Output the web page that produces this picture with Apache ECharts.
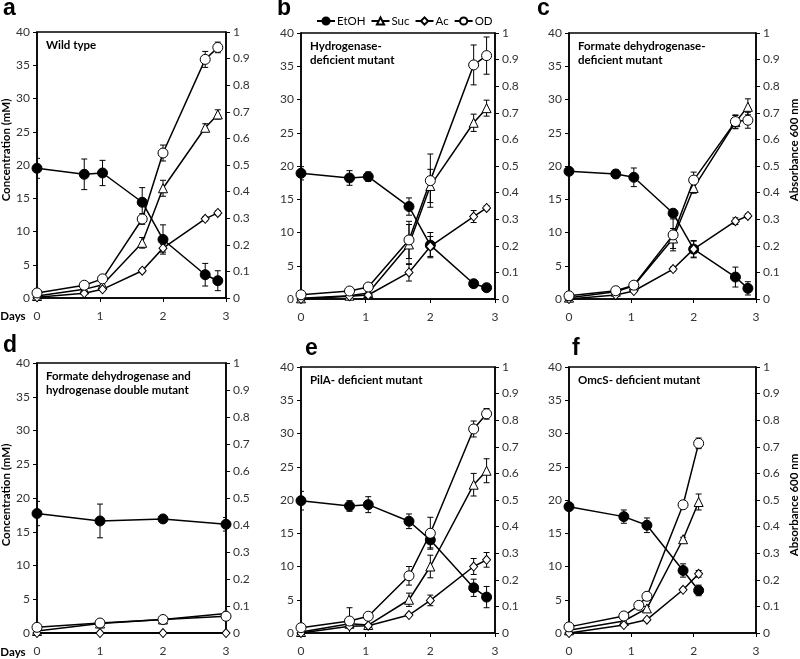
<!DOCTYPE html>
<html><head><meta charset="utf-8">
<script src="https://cdn.jsdelivr.net/npm/echarts@6/dist/echarts.min.js"></script>
<style>html,body{margin:0;padding:0;background:#fff}#c{width:800px;height:659px}</style>
</head><body><div id="c"></div>
<script>
// ---- data ----
const xTicks = [0, 1, 2, 3];
const sampleDays = [0, 0.75, 1.04, 1.67, 2.0, 2.67, 2.87];

const aEtOH = [19.5, 18.6, 18.8, 14.4, 8.8, 3.5, 2.6];
const aEtOHErr = [1.5, 2.3, 1.9, 2.2, 2.2, 1.7, 1.5];
const aSuc = [0.3, 1.3, 2.0, 8.3, 16.5, 25.6, 27.6];
const aSucErr = [0.2, 0.2, 0.3, 0.8, 1.2, 0.6, 0.7];
const aAc = [0.1, 0.7, 1.3, 4.1, 7.5, 11.9, 12.8];
const aAcErr = [0.1, 0.1, 0.2, 0.3, 0.6, 0.3, 0.3];
const aOD = [0.019, 0.048, 0.072, 0.297, 0.545, 0.897, 0.942];
const aODErr = [0.005, 0.005, 0.006, 0.02, 0.03, 0.03, 0.02];

const bEtOH = [18.9, 18.2, 18.4, 13.9, 8.1, 2.3, 1.7];
const bEtOHErr = [1.0, 1.1, 0.7, 1.3, 1.9, 0.4, 0.3];
const bSuc = [0.1, 0.5, 0.9, 8.2, 17.0, 26.5, 28.7];
const bSucErr = [0.1, 0.1, 0.2, 3.0, 2.5, 1.3, 1.2];
const bAc = [0.0, 0.4, 0.6, 4.0, 7.9, 12.4, 13.7];
const bAcErr = [0.0, 0.1, 0.1, 1.3, 1.5, 0.9, 0.3];
const bOD = [0.016, 0.030, 0.045, 0.222, 0.445, 0.88, 0.915];
const bODErr = [0.005, 0.005, 0.008, 0.07, 0.1, 0.075, 0.07];

const cEtOH = [19.2, 18.8, 18.3, 12.9, 7.5, 3.3, 1.6];
const cEtOHErr = [0.3, 0.6, 1.4, 0.4, 1.3, 1.5, 1.0];
const cSuc = [0.2, 1.1, 2.0, 9.1, 16.7, 26.6, 28.9];
const cSucErr = [0.1, 0.2, 0.2, 1.5, 0.8, 1.0, 1.2];
const cAc = [0.0, 0.6, 1.2, 4.5, 7.5, 11.7, 12.5];
const cAcErr = [0.0, 0.1, 0.1, 0.3, 1.2, 0.5, 0.3];
const cOD = [0.012, 0.031, 0.052, 0.241, 0.447, 0.667, 0.672];
const cODErr = [0.003, 0.004, 0.005, 0.06, 0.03, 0.025, 0.03];

const dDays = [0, 1, 2, 3];
const dEtOH = [17.7, 16.6, 16.9, 16.1];
const dEtOHErr = [1.8, 2.5, 0.5, 1.0];
const dSuc = [0.3, 1.4, 2.0, 2.9];
const dSucErr = [0.1, 0.2, 0.2, 0.2];
const dAc = [0.0, 0.0, 0.0, 0.0];
const dAcErr = [0, 0, 0, 0];
const dOD = [0.021, 0.037, 0.050, 0.062];
const dODErr = [0.003, 0.004, 0.004, 0.005];

const eEtOH = [19.9, 19.1, 19.3, 16.8, 14.0, 6.8, 5.4];
const eEtOHErr = [1.4, 0.8, 1.2, 1.1, 1.2, 1.3, 1.6];
const eSuc = [0.15, 1.4, 1.2, 5.0, 10.0, 22.3, 24.4];
const eSucErr = [0.1, 0.3, 0.2, 1.0, 1.7, 1.7, 1.8];
const eAc = [0.0, 1.0, 1.1, 2.7, 4.9, 10.0, 11.0];
const eAcErr = [0.0, 0.2, 0.1, 0.2, 0.8, 1.2, 1.1];
const eOD = [0.02, 0.045, 0.063, 0.215, 0.375, 0.767, 0.824];
const eODErr = [0.005, 0.05, 0.005, 0.035, 0.06, 0.03, 0.02];

const fDays = [0, 0.88, 1.25, 1.83, 2.08];
const fODDays = [0, 0.88, 1.12, 1.25, 1.83, 2.08];
const fEtOH = [19.0, 17.5, 16.2, 9.4, 6.4];
const fEtOHErr = [0.3, 1.0, 1.1, 1.0, 0.8];
const fSuc = [0.4, 1.8, 3.7, 14.1, 19.7];
const fSucErr = [0.1, 0.2, 0.3, 0.3, 1.2];
const fAc = [0.0, 1.2, 2.0, 6.5, 8.9];
const fAcErr = [0.0, 0.1, 0.1, 0.2, 0.5];
const fOD = [0.023, 0.064, 0.104, 0.138, 0.482, 0.713];
const fODErr = [0.004, 0.005, 0.005, 0.005, 0.01, 0.02];

const letters = ['a', 'b', 'c', 'd', 'e', 'f'];
const titles = [
  ['Wild type'],
  ['Hydrogenase-', 'deficient mutant'],
  ['Formate dehydrogenase-', 'deficient mutant'],
  ['Formate dehydrogenase and', 'hydrogenase double mutant'],
  ['PilA- deficient mutant'],
  ['OmcS- deficient mutant']
];

// ---- layout ----
const grids = [
  {left: 37, top: 32, width: 189, height: 266},
  {left: 301, top: 33, width: 194, height: 266},
  {left: 569, top: 33, width: 187, height: 266},
  {left: 37, top: 363, width: 189, height: 270},
  {left: 301, top: 367, width: 194, height: 266},
  {left: 569, top: 367, width: 187, height: 266}
];

const panels = [
  {days: sampleDays, odDays: sampleDays, et: aEtOH, etE: aEtOHErr, su: aSuc, suE: aSucErr, ac: aAc, acE: aAcErr, od: aOD, odE: aODErr},
  {days: sampleDays, odDays: sampleDays, et: bEtOH, etE: bEtOHErr, su: bSuc, suE: bSucErr, ac: bAc, acE: bAcErr, od: bOD, odE: bODErr},
  {days: sampleDays, odDays: sampleDays, et: cEtOH, etE: cEtOHErr, su: cSuc, suE: cSucErr, ac: cAc, acE: cAcErr, od: cOD, odE: cODErr},
  {days: dDays, odDays: dDays, et: dEtOH, etE: dEtOHErr, su: dSuc, suE: dSucErr, ac: dAc, acE: dAcErr, od: dOD, odE: dODErr},
  {days: sampleDays, odDays: sampleDays, et: eEtOH, etE: eEtOHErr, su: eSuc, suE: eSucErr, ac: eAc, acE: eAcErr, od: eOD, odE: eODErr},
  {days: fDays, odDays: fODDays, et: fEtOH, etE: fEtOHErr, su: fSuc, suE: fSucErr, ac: fAc, acE: fAcErr, od: fOD, odE: fODErr}
];

const FONT = 'Lato, "Open Sans", sans-serif';
const pair = (xs, ys) => ys.map((v, i) => [xs[i], v]);
const triple = (xs, ys, es) => ys.map((v, i) => [xs[i], v, es[i]]);

function errRender(params, api) {
  const x = api.value(0), y = api.value(1), e = api.value(2);
  if (!e) return null;
  const t = api.coord([x, y + e]);
  const b = api.coord([x, y - e]);
  const w = 3;
  const st = {stroke: '#000', lineWidth: 1};
  return {type: 'group', children: [
    {type: 'line', shape: {x1: t[0], y1: t[1], x2: b[0], y2: b[1]}, style: st},
    {type: 'line', shape: {x1: t[0] - w, y1: t[1], x2: t[0] + w, y2: t[1]}, style: st},
    {type: 'line', shape: {x1: b[0] - w, y1: b[1], x2: b[0] + w, y2: b[1]}, style: st}
  ]};
}

const xAxis = [], yAxis = [], series = [], grid = [];
const axisLine = {show: true, lineStyle: {color: '#000', width: 1.5}};
const axisTick = {show: true, length: 4, lineStyle: {color: '#000', width: 1}};
const lbl = {fontSize: 12, color: '#333', fontFamily: FONT};

panels.forEach((p, i) => {
  grid.push(Object.assign({show: true, borderColor: '#000', borderWidth: 1.5, containLabel: false, outerBoundsMode: 'none'}, grids[i]));
  xAxis.push({type: 'value', gridIndex: i, min: xTicks[0], max: xTicks[xTicks.length - 1], interval: 1,
    axisLine, axisTick, splitLine: {show: false},
    axisLabel: Object.assign({margin: 12}, lbl)});
  yAxis.push({type: 'value', gridIndex: i, min: 0, max: 40, interval: 5, position: 'left',
    axisLine, axisTick, splitLine: {show: false},
    axisLabel: Object.assign({margin: 7}, lbl)});
  yAxis.push({type: 'value', gridIndex: i, min: 0, max: 1, interval: 0.1, position: 'right',
    axisLine, axisTick, splitLine: {show: false},
    axisLabel: Object.assign({margin: 7, formatter: v => String(+v.toFixed(1))}, lbl)});
  const L = 2 * i, R = 2 * i + 1;
  const errS = (name, xs, ys, es, yi) => ({type: 'custom', name, xAxisIndex: i, yAxisIndex: yi,
    renderItem: errRender, data: triple(xs, ys, es), encode: {x: 0, y: 1}, z: 1, clip: true, silent: true});
  series.push(errS('e1', p.days, p.et, p.etE, L));
  series.push(errS('e2', p.days, p.su, p.suE, L));
  series.push(errS('e3', p.days, p.ac, p.acE, L));
  series.push(errS('e4', p.odDays, p.od, p.odE, R));
  const lineS = (name, xs, ys, yi, symbol, size, fill) => ({type: 'line', name, xAxisIndex: i, yAxisIndex: yi,
    data: pair(xs, ys), symbol, symbolSize: size, showAllSymbol: true, z: 3,
    lineStyle: {color: '#000', width: 1.5},
    itemStyle: {color: fill, borderColor: '#000', borderWidth: 1}});
  series.push(lineS('EtOH', p.days, p.et, L, 'circle', 10, '#000'));
  series.push(lineS('Suc', p.days, p.su, L, 'triangle', 9, '#fff'));
  series.push(lineS('Ac', p.days, p.ac, L, 'diamond', [8, 9], '#fff'));
  series.push(lineS('OD', p.odDays, p.od, R, 'circle', 10, '#fff'));
});

const graphic = [];
const letterPos = [[3, 9], [277, 9], [537, 9], [3, 346], [305, 349], [572, 349]];
letters.forEach((t, i) => graphic.push({type: 'text', x: letterPos[i][0], y: letterPos[i][1],
  style: {text: t, font: 'bold 23px "Liberation Sans", Arial, sans-serif', fill: '#000', textAlign: 'left', textVerticalAlign: 'middle'}}));
titles.forEach((lines, i) => {
  const g = grids[i];
  lines.forEach((t, k) => graphic.push({type: 'text', x: g.left + 9, y: g.top + 13 + k * 14,
    style: {text: t, font: 'bold 11.5px ' + FONT, fill: '#000', textAlign: 'left', textVerticalAlign: 'middle'}}));
});
[[13, 316], [13, 652]].forEach(p => graphic.push({type: 'text', x: p[0], y: p[1],
  style: {text: 'Days', font: 'bold 11.5px ' + FONT, fill: '#000', textAlign: 'center', textVerticalAlign: 'middle'}}));
[[6, 150], [6, 495]].forEach(p => graphic.push({type: 'text', x: p[0], y: p[1], rotation: Math.PI / 2,
  style: {text: 'Concentration (mM)', font: 'bold 11.5px ' + FONT, fill: '#000', textAlign: 'center', textVerticalAlign: 'middle'}}));
[[794, 150], [794, 505]].forEach(p => graphic.push({type: 'text', x: p[0], y: p[1], rotation: Math.PI / 2,
  style: {text: 'Absorbance 600 nm', font: 'bold 11.5px ' + FONT, fill: '#000', textAlign: 'center', textVerticalAlign: 'middle'}}));

const chart = echarts.init(document.getElementById('c'), null, {renderer: 'canvas'});
chart.setOption({
  animation: false,
  backgroundColor: '#fff',
  legend: {data: ['EtOH', 'Suc', 'Ac', 'OD'], left: 311, top: 10, itemWidth: 18, itemHeight: 9, itemGap: 5,
    textStyle: {fontSize: 11.5, color: '#000', fontFamily: FONT, padding: [0, 0, 0, -3]}},
  grid, xAxis, yAxis, series, graphic
});
</script></body></html>
